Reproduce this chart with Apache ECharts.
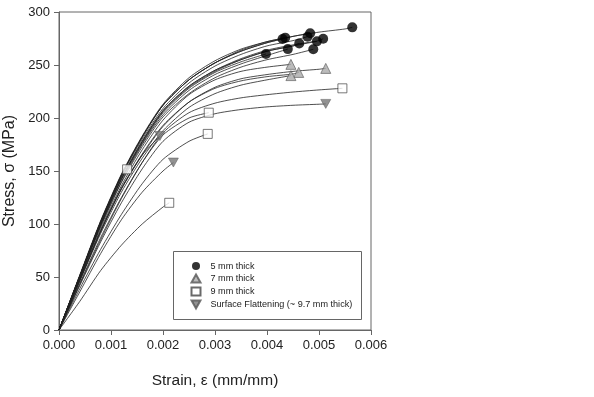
<!DOCTYPE html>
<html lang="en">
<head>
    <meta charset="UTF-8">
    <title>Stress-strain</title>
    <script src="https://cdn.jsdelivr.net/npm/echarts@6/dist/echarts.min.js"></script>
    <style>
        html, body {
            margin: 0;
            padding: 0;
            background: #fff;
        }

        #chart {
            width: 594px;
            height: 397px;
        }
    </style>
</head>
<body>
<div id="chart"></div>
<script>
    var strainGrid = [0, 0.0004, 0.0008, 0.0012, 0.0016, 0.002, 0.0025, 0.003, 0.0035, 0.004, 0.0045, 0.005, 0.0055];

    // stress (MPa) on the grid, one row per specimen; the last point of each is in the ends arrays
    var thick5 = [
        [0, 51, 102, 146, 182, 212, 236, 252, 263, 271, 277, 281, 284],
        [0, 51, 102, 146, 182, 212, 236, 252, 264, 272, 277],
        [0, 50, 100, 143, 178, 207, 230, 245, 256, 264, 269, 273],
        [0, 51, 101, 145, 180, 209, 233, 249, 260, 268, 273],
        [0, 52, 103, 147, 183, 213, 238, 254, 265, 272],
        [0, 51, 102, 146, 182, 212, 236, 252, 263, 271],
        [0, 50, 100, 143, 178, 207, 230, 245, 255, 263, 268],
        [0, 50, 99, 142, 177, 206, 229, 244, 255, 263, 268],
        [0, 49, 98, 140, 175, 203, 226, 241, 251, 259],
        [0, 49, 97, 139, 173, 201, 223, 238, 248, 255, 260],
        [0, 50, 99, 142, 176, 205, 228, 243, 253]
    ];
    var ends5 = [[0.00564, 285.5], [0.00483, 280], [0.00508, 274.8], [0.00478, 276.7], [0.00435, 275.8],
        [0.0043, 274.5], [0.00462, 270.4], [0.00496, 272.3], [0.0044, 265], [0.00489, 264.8], [0.00398, 260.4]];

    var thick7 = [
        [0, 48, 95, 136, 170, 198, 222, 236, 244, 248],
        [0, 47, 93, 133, 165, 192, 215, 229, 237, 241, 244, 246],
        [0, 47, 93, 133, 166, 193, 215, 228, 235, 239, 241.5],
        [0, 46, 91, 130, 162, 188, 210, 223, 231, 236]
    ];
    var ends7 = [[0.00446, 250.6], [0.00513, 246.8], [0.00461, 243], [0.00446, 240]];

    var thick9 = [
        [0, 51, 101, 145],
        [0, 27, 56, 80, 100, 116],
        [0, 39, 76, 109, 138, 161, 178],
        [0, 44, 87, 125, 158, 184, 200],
        [0, 43, 85, 124, 158, 186, 205, 214, 219, 222, 224.5, 226.5]
    ];
    var ends9 = [[0.00131, 151.6], [0.00212, 120], [0.00286, 185], [0.00288, 205], [0.00545, 228]];

    var flattened = [
        [0, 47, 93, 134, 165],
        [0, 36, 72, 104, 130, 150],
        [0, 42, 83, 120, 152, 178, 196, 204, 208, 210.5, 212, 213]
    ];
    var endsFlat = [[0.00194, 183], [0.0022, 158], [0.00513, 213.3]];

    var xTicks = [0, 0.001, 0.002, 0.003, 0.004, 0.005, 0.006];
    var yTicks = [0, 50, 100, 150, 200, 250, 300];

    var font = 'Liberation Sans, Arial, sans-serif';
    var axisColor = '#666';
    var chart = echarts.init(document.getElementById('chart'), null, {renderer: 'canvas'});

    var series = [];

    function addCurves(rows, ends) {
        for (var i = 0; i < rows.length; ++i) {
            var pts = rows[i].map(function (v, j) {
                return [strainGrid[j], v];
            });
            pts.push(ends[i]);
            series.push({
                type: 'line',
                data: pts,
                smooth: 0.25,
                showSymbol: false,
                silent: true,
                lineStyle: {color: '#222', width: 0.8},
                z: 2
            });
        }
    }

    addCurves(thick5, ends5);
    addCurves(thick7, ends7);
    addCurves(thick9, ends9);
    addCurves(flattened, endsFlat);

    var downTriangle = 'path://M0,0L10,0L5,9Z';

    series.push({
        name: '5 mm thick', type: 'scatter', data: ends5, symbol: 'circle', symbolSize: 10,
        itemStyle: {color: '#000'}, z: 5
    });
    series.push({
        name: '7 mm thick', type: 'scatter', data: ends7, symbol: 'triangle', symbolSize: 10,
        itemStyle: {color: '#aaa', borderColor: '#555', borderWidth: 0.8}, z: 5
    });
    series.push({
        name: '9 mm thick', type: 'scatter', data: ends9, symbol: 'rect', symbolSize: 9,
        itemStyle: {color: '#fff', borderColor: '#444', borderWidth: 0.9}, z: 5
    });
    series.push({
        name: 'Surface Flattening (~ 9.7 mm thick)', type: 'scatter', data: endsFlat,
        symbol: downTriangle, symbolSize: [10, 9],
        itemStyle: {color: '#777', borderColor: '#555', borderWidth: 0.6}, z: 5
    });

    chart.setOption({
        animation: false,
        backgroundColor: '#fff',
        grid: {
            left: 59, right: 223, top: 12, bottom: 67,
            outerBoundsMode: 'none',
            containLabel: false,
            show: true, borderColor: axisColor, borderWidth: 1, backgroundColor: 'transparent'
        },
        graphic: [{
            type: 'rect',
            shape: {x: 173.5, y: 251.5, width: 188, height: 68},
            style: {fill: '#fff', stroke: axisColor, lineWidth: 1},
            z: 10
        }],
        legend: {
            data: [
                {name: '5 mm thick', icon: 'circle'},
                {name: '7 mm thick', icon: 'triangle'},
                {name: '9 mm thick', icon: 'rect'},
                {name: 'Surface Flattening (~ 9.7 mm thick)', icon: downTriangle}
            ],
            orient: 'vertical',
            left: 190.5, top: 261.5,
            itemWidth: 9, itemHeight: 8, itemGap: 3,
            padding: 0,
            selectedMode: false,
            textStyle: {fontFamily: font, fontSize: 9.1, color: '#222', padding: [0, 0, 0, 5]},
            z: 20
        },
        xAxis: {
            type: 'value',
            min: xTicks[0], max: xTicks[xTicks.length - 1], interval: 0.001,
            name: 'Strain, \u03b5 (mm/mm)',
            nameLocation: 'middle', nameGap: 43,
            nameTextStyle: {fontFamily: font, fontSize: 15.5, color: '#222'},
            axisLine: {lineStyle: {color: axisColor}},
            axisTick: {inside: false, length: 5, lineStyle: {color: axisColor}},
            axisLabel: {
                fontFamily: font, fontSize: 13, color: '#222', margin: 9,
                formatter: function (v) {
                    return v.toFixed(3);
                }
            },
            splitLine: {show: false}
        },
        yAxis: {
            type: 'value',
            min: yTicks[0], max: yTicks[yTicks.length - 1], interval: 50,
            name: 'Stress, \u03c3 (MPa)',
            nameLocation: 'middle', nameGap: 41,
            nameTextStyle: {fontFamily: font, fontSize: 16, color: '#222'},
            axisLine: {lineStyle: {color: axisColor}},
            axisTick: {inside: false, length: 5, lineStyle: {color: axisColor}},
            axisLabel: {fontFamily: font, fontSize: 13, color: '#222', margin: 9},
            splitLine: {show: false}
        },
        series: series
    });
</script>
</body>
</html>
